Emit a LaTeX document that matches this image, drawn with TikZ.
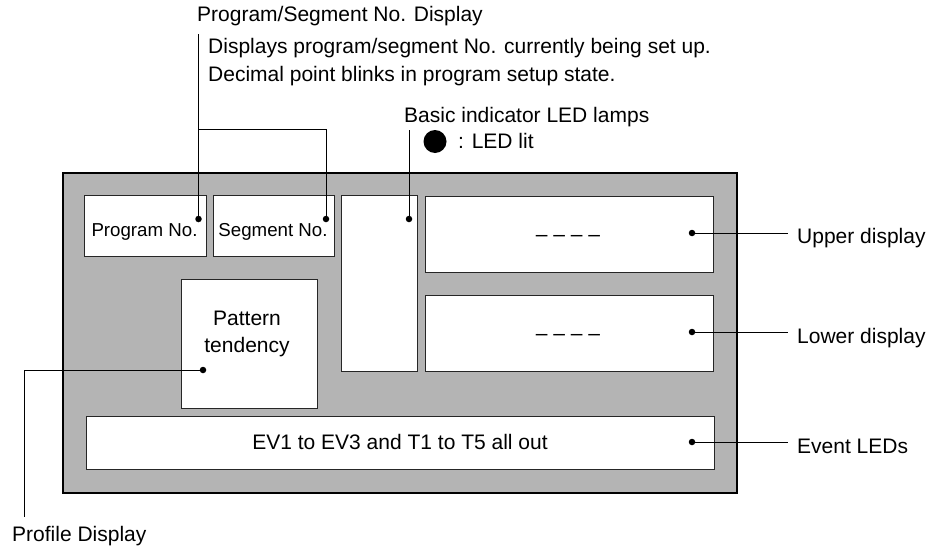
\documentclass[tikz,border=0pt]{standalone}
\usepackage{fontspec}
\setmainfont{Liberation Sans}
\usepackage{tikz}
\usetikzlibrary{positioning}
\definecolor{panelGray}{HTML}{B4B4B4}

\begin{document}
\begin{tikzpicture}[
    x=1pt, y=-1pt,
    every node/.style={font=\fontsize{21}{27}\selectfont, inner sep=0pt},
    panel/.style={draw=black, line width=2.6pt, fill=panelGray},
    win/.style={draw=black!85, line width=1pt, fill=white},
    lead/.style={draw=black, line width=0.9pt},
    dot/.style={circle, fill=black, inner sep=0pt, minimum size=6.5pt},
    small/.style={font=\fontsize{18.7}{22}\selectfont},
    rlabel/.style={anchor=base west, inner xsep=9pt},
]
  \useasboundingbox (0,0) rectangle (936,546);
  % front panel and its windows
  \node[panel, minimum width=674pt, minimum height=320pt] (panel) at (400,333) {};
  \node[win, minimum width=122pt, minimum height=61pt] (prog) at (145,225.5) {};
  \node[win, minimum width=121pt, minimum height=61pt] (seg) at (273.5,225.5) {};
  \node[win, minimum width=76pt, minimum height=176pt] (led) at (379,283) {};
  \node[win, minimum width=288pt, minimum height=76pt] (upper) at (569,234) {};
  \node[win, minimum width=288pt, minimum height=76pt] (lower) at (569,333) {};
  \node[win, minimum width=136pt, minimum height=129pt] (pattern) at (249,343.5) {};
  \node[win, minimum width=628pt, minimum height=53pt] (event) at (400,442.5) {};
  % texts in the windows
  \node[small, anchor=base] (progtxt) at (144.5,236) {Program No.};
  \node[small, anchor=base] (segtxt) at (273,236) {Segment No.};
  \node[anchor=base] (pattxt1) at (247,325) {Pattern};
  \node[anchor=base] (pattxt2) at (247,352) {tendency};
  \node[anchor=base] (updash) at (568,241) {– – – –};
  \node[anchor=base] (lowdash) at (568,340) {– – – –};
  \node[anchor=base] (evtxt) at (400,449) {EV1 to EV3 and T1 to T5 all out};
  % callout texts
  \node[anchor=base west, inner ysep=8.6pt] (title) at (197,21) {Program/Segment No. Display};
  \node[anchor=base west] (desc1) at (208,53) {Displays program/segment No. currently being set up.};
  \node[anchor=base west] (desc2) at (208,81) {Decimal point blinks in program setup state.};
  \node[anchor=base west, inner ysep=3.6pt] (ledtitle) at (404,122) {Basic indicator LED lamps};
  \node[circle, fill=black, minimum size=23pt] (litmark) at (435,141.5) {};
  \node[anchor=base west] (littxt) at (458,148) {: LED lit};
  \node[rlabel] (uplbl) at (788,243) {Upper display};
  \node[rlabel] (lowlbl) at (788,343) {Lower display};
  \node[rlabel] (evlbl) at (788,453) {Event LEDs};
  \node[anchor=base west, inner ysep=8.7pt] (proflbl) at (12,541) {Profile Display};
  % dots
  \node[dot] (progdot) at (198.5,219) {};
  \node[dot] (segdot) at (326,219) {};
  \node[dot] (leddot) at (409,219) {};
  \node[dot] (updot) at (692,233) {};
  \node[dot] (lowdot) at (692,332) {};
  \node[dot] (evdot) at (692,442) {};
  \node[dot] (patdot) at (203,370) {};
  \coordinate (brk) at (198.5,129);
  \coordinate (profbend) at (24,370);
  % leader lines
  \draw[lead] (progdot) -- (progdot |- title.south);
  \draw[lead] (brk) -| (segdot);
  \draw[lead] (leddot) -- (leddot |- ledtitle.south);
  \draw[lead] (updot) -- (updot -| uplbl.west);
  \draw[lead] (lowdot) -- (lowdot -| lowlbl.west);
  \draw[lead] (evdot) -- (evdot -| evlbl.west);
  \draw[lead] (patdot) -- (profbend) -- (profbend |- proflbl.north);
\end{tikzpicture}
\end{document}
